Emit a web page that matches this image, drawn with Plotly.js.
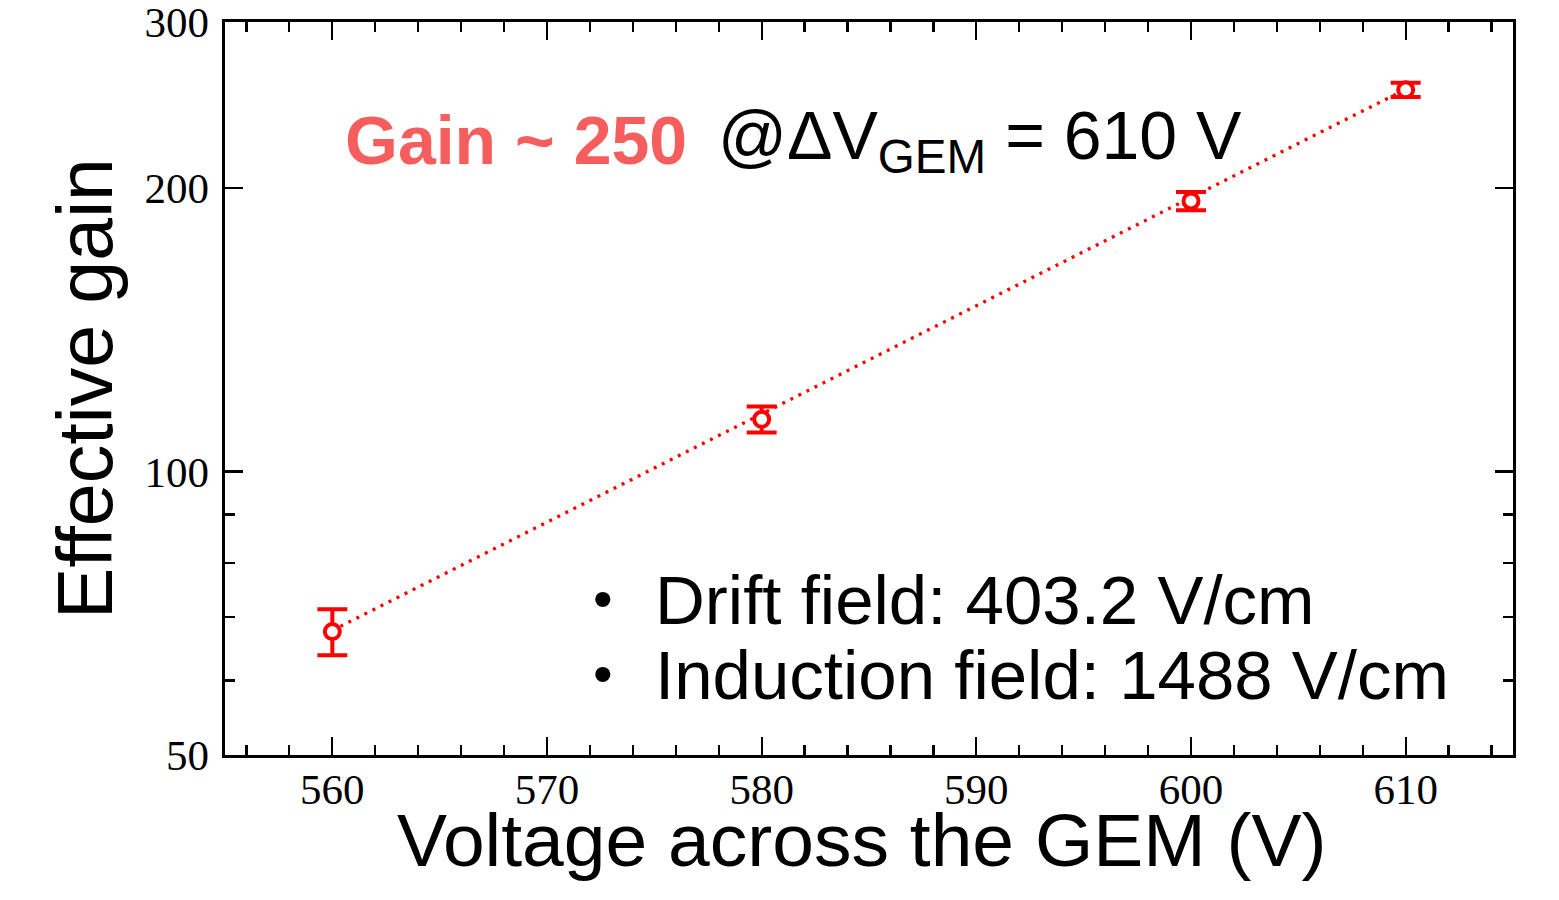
<!DOCTYPE html>
<html>
<head>
<meta charset="utf-8">
<script src="https://cdn.plot.ly/plotly-3.0.1.min.js"></script>
<style>html,body{margin:0;padding:0;background:#fff;}#chart{width:1559px;height:900px;}</style>
</head>
<body>
<div id="chart"></div>
<script>
// Data
const voltage = [560, 580, 600, 610];
const gain = [67.6, 113.6, 193.7, 254.2];
const gainErr = [3.8, 3.6, 4.3, 4.4];
const fitVoltage = [560, 610];
const fitGain = [67.8, 254.5];
const xTickVals = [560, 570, 580, 590, 600, 610];
const yTickVals = [50, 100, 200, 300];
const yTickText = ['50', '100', '200', '300'];
const yMinorVals = [60, 70, 80, 90];

const SANS = '"Liberation Sans", Arial, Helvetica, sans-serif';
const SERIF = '"Liberation Serif", "Times New Roman", serif';
const L = 225, R = 1513, T = 22, B = 755;
const px2x = p => (p - L) / (R - L);
const px2y = p => (B - p) / (B - T);

const traces = [
  {
    x: fitVoltage, y: fitGain, mode: 'lines', type: 'scatter',
    line: {color: '#ff0000', width: 3.3, dash: '3px,6px'},
    hoverinfo: 'skip', showlegend: false
  },
  {
    x: voltage, y: gain, mode: 'markers', type: 'scatter',
    marker: {symbol: 'circle', size: 15, color: '#ffffff', line: {color: '#ff0000', width: 4}},
    error_y: {type: 'data', array: gainErr, visible: true, color: '#ff0000', thickness: 4, width: 15},
    showlegend: false
  }
];

const layout = {
  width: 1559, height: 900,
  margin: {l: L, r: 1559 - R, t: T, b: 900 - B, pad: 0},
  paper_bgcolor: '#ffffff', plot_bgcolor: '#ffffff',
  showlegend: false,
  xaxis: {
    range: [555, 615],
    tickmode: 'array', tickvals: xTickVals,
    ticks: 'inside', ticklen: 18, tickwidth: 2.2, tickcolor: '#000',
    minor: {dtick: 2, tick0: 556, ticks: 'inside', ticklen: 10, tickwidth: 2.2, tickcolor: '#000', showgrid: false},
    showline: true, linewidth: 3.3, linecolor: '#000', mirror: 'ticks',
    showgrid: false, zeroline: false,
    tickfont: {family: SERIF, size: 43, color: '#000'},
    ticklabelstandoff: -6,
    ticklabeloverflow: 'allow',
    automargin: false
  },
  yaxis: {
    type: 'log',
    range: [Math.log10(50) - 1e-7, Math.log10(300) + 1e-7],
    tickmode: 'array', tickvals: yTickVals, ticktext: yTickText,
    ticks: 'inside', ticklen: 18, tickwidth: 2.2, tickcolor: '#000',
    minor: {tickmode: 'array', tickvals: yMinorVals, ticks: 'inside', ticklen: 10, tickwidth: 2.2, tickcolor: '#000', showgrid: false},
    showline: true, linewidth: 3.3, linecolor: '#000', mirror: 'ticks',
    showgrid: false, zeroline: false,
    tickfont: {family: SERIF, size: 43, color: '#000'},
    ticklabelstandoff: 4,
    ticklabeloverflow: 'allow',
    title: {text: 'Effective gain', font: {family: SANS, size: 77, color: '#000'}, standoff: 7},
    automargin: false
  },
  annotations: [
    {
      xref: 'paper', yref: 'paper', x: px2x(862), y: px2y(840), xanchor: 'center', yanchor: 'middle',
      text: 'Voltage across the GEM (V)', showarrow: false,
      font: {family: SANS, size: 75, color: '#000'}
    },
    {
      xref: 'paper', yref: 'paper', x: px2x(343), y: px2y(140), xanchor: 'left', yanchor: 'middle',
      text: '<b>Gain ~ 250</b>',
      showarrow: false, font: {family: SANS, size: 68, color: '#f65e5e'}
    },
    {
      xref: 'paper', yref: 'paper', x: px2x(716), y: px2y(140), xanchor: 'left', yanchor: 'middle',
      text: '@ΔV<sub>GEM</sub> = 610 V',
      showarrow: false, font: {family: SANS, size: 68, color: '#000'}
    },
    {
      xref: 'paper', yref: 'paper', x: px2x(603), y: px2y(598), xanchor: 'center', yanchor: 'middle',
      text: '•', showarrow: false, font: {family: SANS, size: 56, color: '#000'}
    },
    {
      xref: 'paper', yref: 'paper', x: px2x(653), y: px2y(600), xanchor: 'left', yanchor: 'middle',
      text: 'Drift field: 403.2 V/cm', showarrow: false, font: {family: SANS, size: 69, color: '#000'}
    },
    {
      xref: 'paper', yref: 'paper', x: px2x(603), y: px2y(673), xanchor: 'center', yanchor: 'middle',
      text: '•', showarrow: false, font: {family: SANS, size: 56, color: '#000'}
    },
    {
      xref: 'paper', yref: 'paper', x: px2x(653), y: px2y(675), xanchor: 'left', yanchor: 'middle',
      text: 'Induction field: 1488 V/cm', showarrow: false, font: {family: SANS, size: 69, color: '#000'}
    }
  ]
};

Plotly.newPlot('chart', traces, layout, {staticPlot: true, displayModeBar: false});
</script>
</body>
</html>
